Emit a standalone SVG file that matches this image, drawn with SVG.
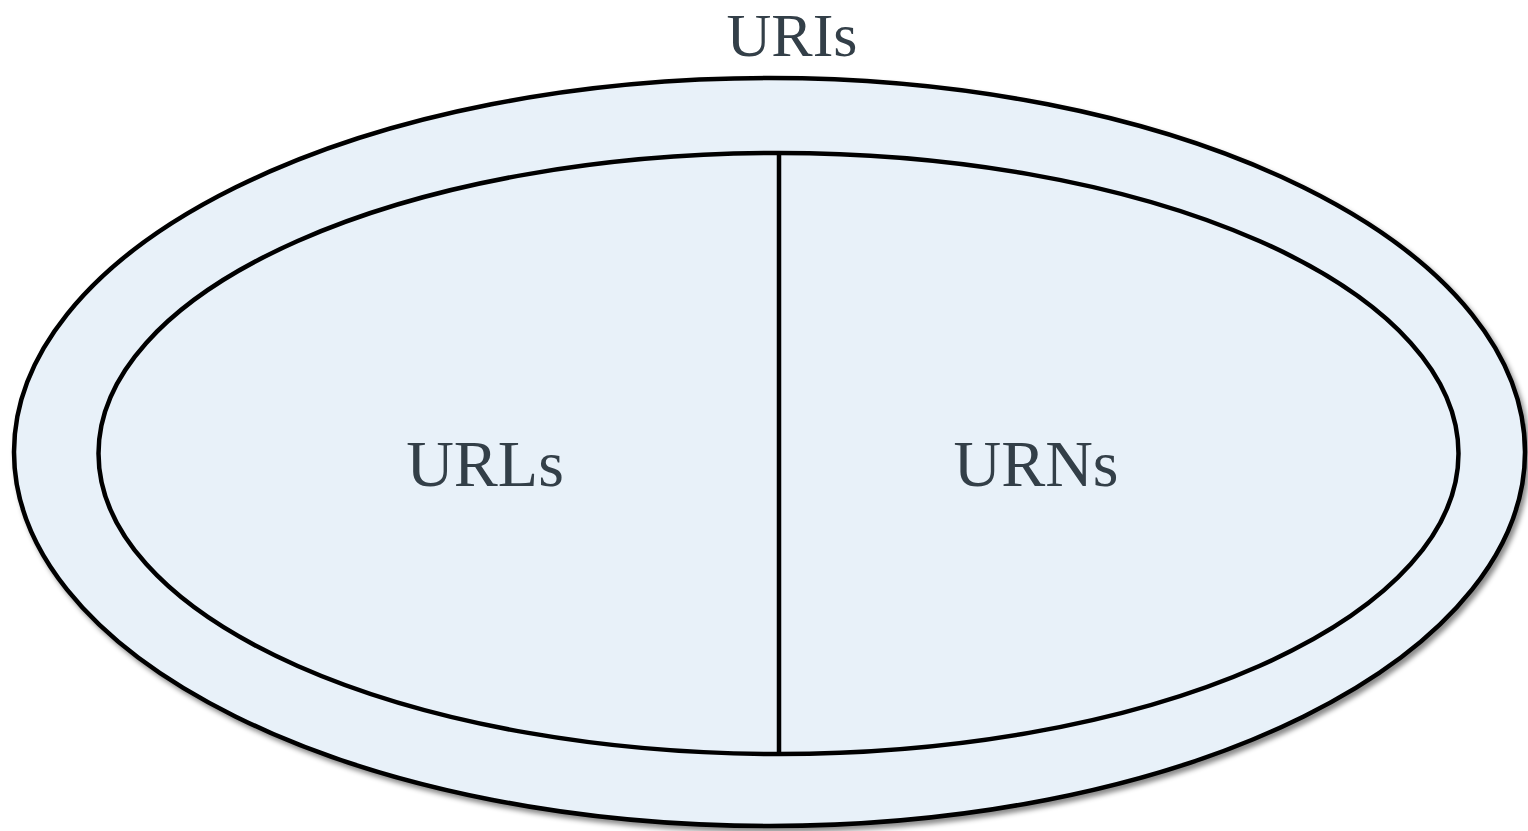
<svg xmlns="http://www.w3.org/2000/svg" width="1528" height="831" viewBox="0 0 1528 831">
<style>
.shape{fill:#e8f1f9;stroke:#000;stroke-width:4.5}
.lbl{font-family:"Liberation Serif",serif;fill:#333f48;text-anchor:middle}
</style>
<defs>
<filter id="sh" x="-5%" y="-5%" width="110%" height="112%">
<feDropShadow dx="3" dy="4" stdDeviation="2.5" flood-color="#000" flood-opacity="0.45"/>
</filter>
</defs>
<rect width="1528" height="831" fill="#fff"/>
<g id="uris">
<ellipse class="shape" cx="769.5" cy="452" rx="755.5" ry="374" filter="url(#sh)"/>
<text class="lbl" x="792" y="56" font-size="62">URIs</text>
</g>
<g id="urls-urns">
<ellipse class="shape" cx="778.5" cy="453.5" rx="680" ry="300.5"/>
</g>
<g id="connectors">
<line x1="779" y1="153" x2="779" y2="754" stroke="#000" stroke-width="4.5"/>
</g>
<g id="urls">
<text class="lbl" x="485" y="486" font-size="66">URLs</text>
</g>
<g id="urns">
<text class="lbl" x="1036" y="486" font-size="66">URNs</text>
</g>
</svg>
